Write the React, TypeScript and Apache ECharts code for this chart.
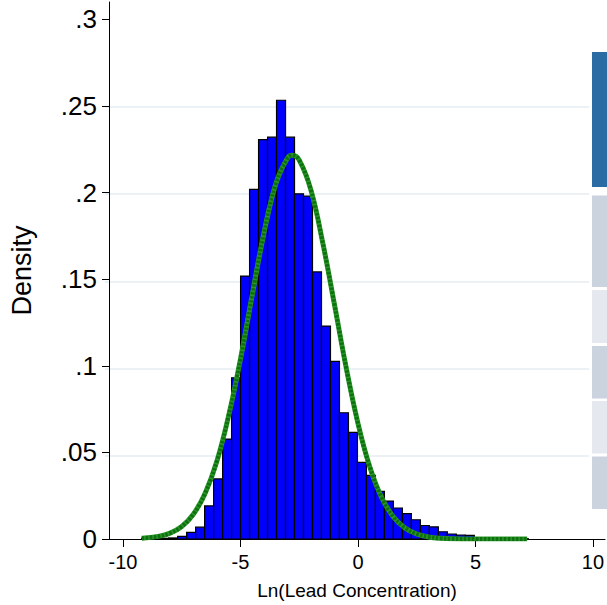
import React, { useEffect, useRef } from "react";
import * as echarts from "echarts";

// Histogram of Ln(Lead Concentration): bins start and width, densities per bin
const binStart = -9.206;
const binWidth = 0.3826;
const densities = [
  0.0005, 0.0004, 0.0004, 0.0006, 0.0015, 0.0038, 0.0068, 0.0191, 0.0347, 0.0577,
  0.0931, 0.1518, 0.2018, 0.2306, 0.232, 0.2533, 0.232, 0.1993, 0.1979, 0.1542,
  0.1229, 0.1025, 0.0729, 0.0616, 0.0442, 0.0367, 0.0275, 0.0219, 0.0179, 0.0147,
  0.0111, 0.0078, 0.007, 0.0042, 0.0029, 0.0023, 0.0021, 0.0008, 0.0005, 0.0004,
  0.0003, 0.0002, 0.0002,
];

// Fitted normal density curve
const curveX = [
  -9.2, -8.5, -8, -7.5, -7, -6.5, -6, -5.5, -5, -4.5, -4, -3.5, -3, -2.79, -2.5, -2,
  -1.5, -1, -0.5, 0, 0.5, 1, 1.5, 2, 2.5, 3, 3.5, 4, 5, 6, 7.2,
];
const curveY = [
  0.0004, 0.0015, 0.0034, 0.0072, 0.0144, 0.0266, 0.0452, 0.0715, 0.104, 0.141, 0.1768,
  0.205, 0.22, 0.2215, 0.2187, 0.2013, 0.171, 0.1352, 0.0987, 0.0667, 0.0417, 0.0241,
  0.0129, 0.0064, 0.0029, 0.0012, 0.0004, 0.0001, 0, 0, 0,
];

const xTicks = [-10, -5, 0, 5, 10];
const yTicks = [0, 0.05, 0.1, 0.15, 0.2, 0.25, 0.3];

const FONT = "'Liberation Sans', Arial, Helvetica, sans-serif";

const fmtY = (v: number) => {
  if (v === 0) return "0";
  const s = String(Math.round(v * 100) / 100);
  return s.replace(/^0\./, ".");
};

export default function App() {
  const ref = useRef<HTMLDivElement>(null);
  useEffect(() => {
    if (!ref.current) return;
    const chart = echarts.init(ref.current, null, { renderer: "svg" });
    const barData = densities.map((d, i) => [
      binStart + i * binWidth,
      binStart + (i + 1) * binWidth,
      d,
    ]);
    const curveData = curveX.map((x, i) => [x, curveY[i]]);

    chart.setOption({
      animation: false,
      backgroundColor: "#ffffff",
      grid: [
        { left: 105, right: 0, top: 2.04, bottom: 61.7, containLabel: false },
        { left: 105, width: 484, top: 19.5, bottom: 61.7, containLabel: false },
      ],
      xAxis: [
        {
          type: "value",
          gridIndex: 0,
          min: -10.597,
          max: 10.513,
          name: "Ln(Lead Concentration)",
          nameLocation: "middle",
          nameGap: 42,
          nameTextStyle: { fontFamily: FONT, fontSize: 19, color: "#000" },
          axisLine: { show: true, onZero: false, lineStyle: { color: "#000", width: 1 } },
          axisTick: { show: true, length: 8, customValues: xTicks, lineStyle: { color: "#000" } },
          axisLabel: {
            show: true,
            customValues: xTicks,
            fontFamily: FONT,
            fontSize: 20,
            color: "#000",
            margin: 13,
          },
          splitLine: { show: false },
        },
        {
          type: "value",
          gridIndex: 1,
          min: -10,
          max: 10,
          show: false,
        },
      ],
      yAxis: [
        {
          type: "value",
          gridIndex: 0,
          min: 0,
          max: 0.31,
          name: "Density",
          nameLocation: "middle",
          nameGap: 74,
          nameTextStyle: { fontFamily: FONT, fontSize: 27, color: "#000" },
          axisLine: { show: true, onZero: false, lineStyle: { color: "#000", width: 1 } },
          axisTick: { show: true, length: 7, customValues: yTicks, lineStyle: { color: "#000" } },
          axisLabel: {
            show: true,
            customValues: yTicks,
            formatter: (v: number) => fmtY(v),
            fontFamily: FONT,
            fontSize: 26,
            color: "#000",
            margin: 12,
          },
          splitLine: { show: false },
        },
        {
          type: "value",
          gridIndex: 1,
          min: 0,
          max: 0.3,
          interval: 0.05,
          axisLine: { show: false },
          axisTick: { show: false },
          axisLabel: { show: false },
          splitLine: {
            show: true,
            showMinLine: false,
            showMaxLine: false,
            lineStyle: { color: "#e6edf2", width: 1.5 },
          },
        },
      ],
      series: [
        {
          type: "line",
          xAxisIndex: 1,
          yAxisIndex: 1,
          data: [],
          silent: true,
        },
        {
          type: "custom",
          xAxisIndex: 0,
          yAxisIndex: 0,
          data: barData,
          z: 3,
          renderItem: (params: any, api: any) => {
            const p0 = api.coord([api.value(0), api.value(2)]);
            const p1 = api.coord([api.value(1), 0]);
            return {
              type: "rect",
              shape: {
                x: p0[0],
                y: p0[1],
                width: p1[0] - p0[0],
                height: p1[1] - p0[1],
              },
              style: { fill: "#0000ff", stroke: "#000000", lineWidth: 1.2 },
            };
          },
        },
        {
          type: "line",
          xAxisIndex: 0,
          yAxisIndex: 0,
          data: curveData,
          smooth: 0.4,
          showSymbol: false,
          z: 5,
          lineStyle: { color: "#2a962a", width: 5 },
        },
        {
          type: "line",
          xAxisIndex: 0,
          yAxisIndex: 0,
          data: curveData,
          smooth: 0.4,
          showSymbol: false,
          z: 6,
          lineStyle: { color: "#0e700e", width: 4, type: [2.5, 1.5] },
        },
      ],
      graphic: [
        { type: "rect", shape: { x: 592, y: 52, width: 16, height: 135 }, style: { fill: "#2b6ca5" } },
        { type: "rect", shape: { x: 592, y: 195.5, width: 16, height: 91.5 }, style: { fill: "#cbd3df" } },
        { type: "rect", shape: { x: 592, y: 290, width: 16, height: 53 }, style: { fill: "#e5e9ef" } },
        { type: "rect", shape: { x: 592, y: 346, width: 16, height: 52.5 }, style: { fill: "#cbd3df" } },
        { type: "rect", shape: { x: 592, y: 401, width: 16, height: 52.5 }, style: { fill: "#e5e9ef" } },
        { type: "rect", shape: { x: 592, y: 456.5, width: 16, height: 52.5 }, style: { fill: "#cbd3df" } },
      ],
    });
    return () => chart.dispose();
  }, []);
  return (
    <div
      ref={ref}
      style={{ position: "absolute", left: 0, top: 0, width: 607, height: 605, background: "#fff" }}
    />
  );
}
